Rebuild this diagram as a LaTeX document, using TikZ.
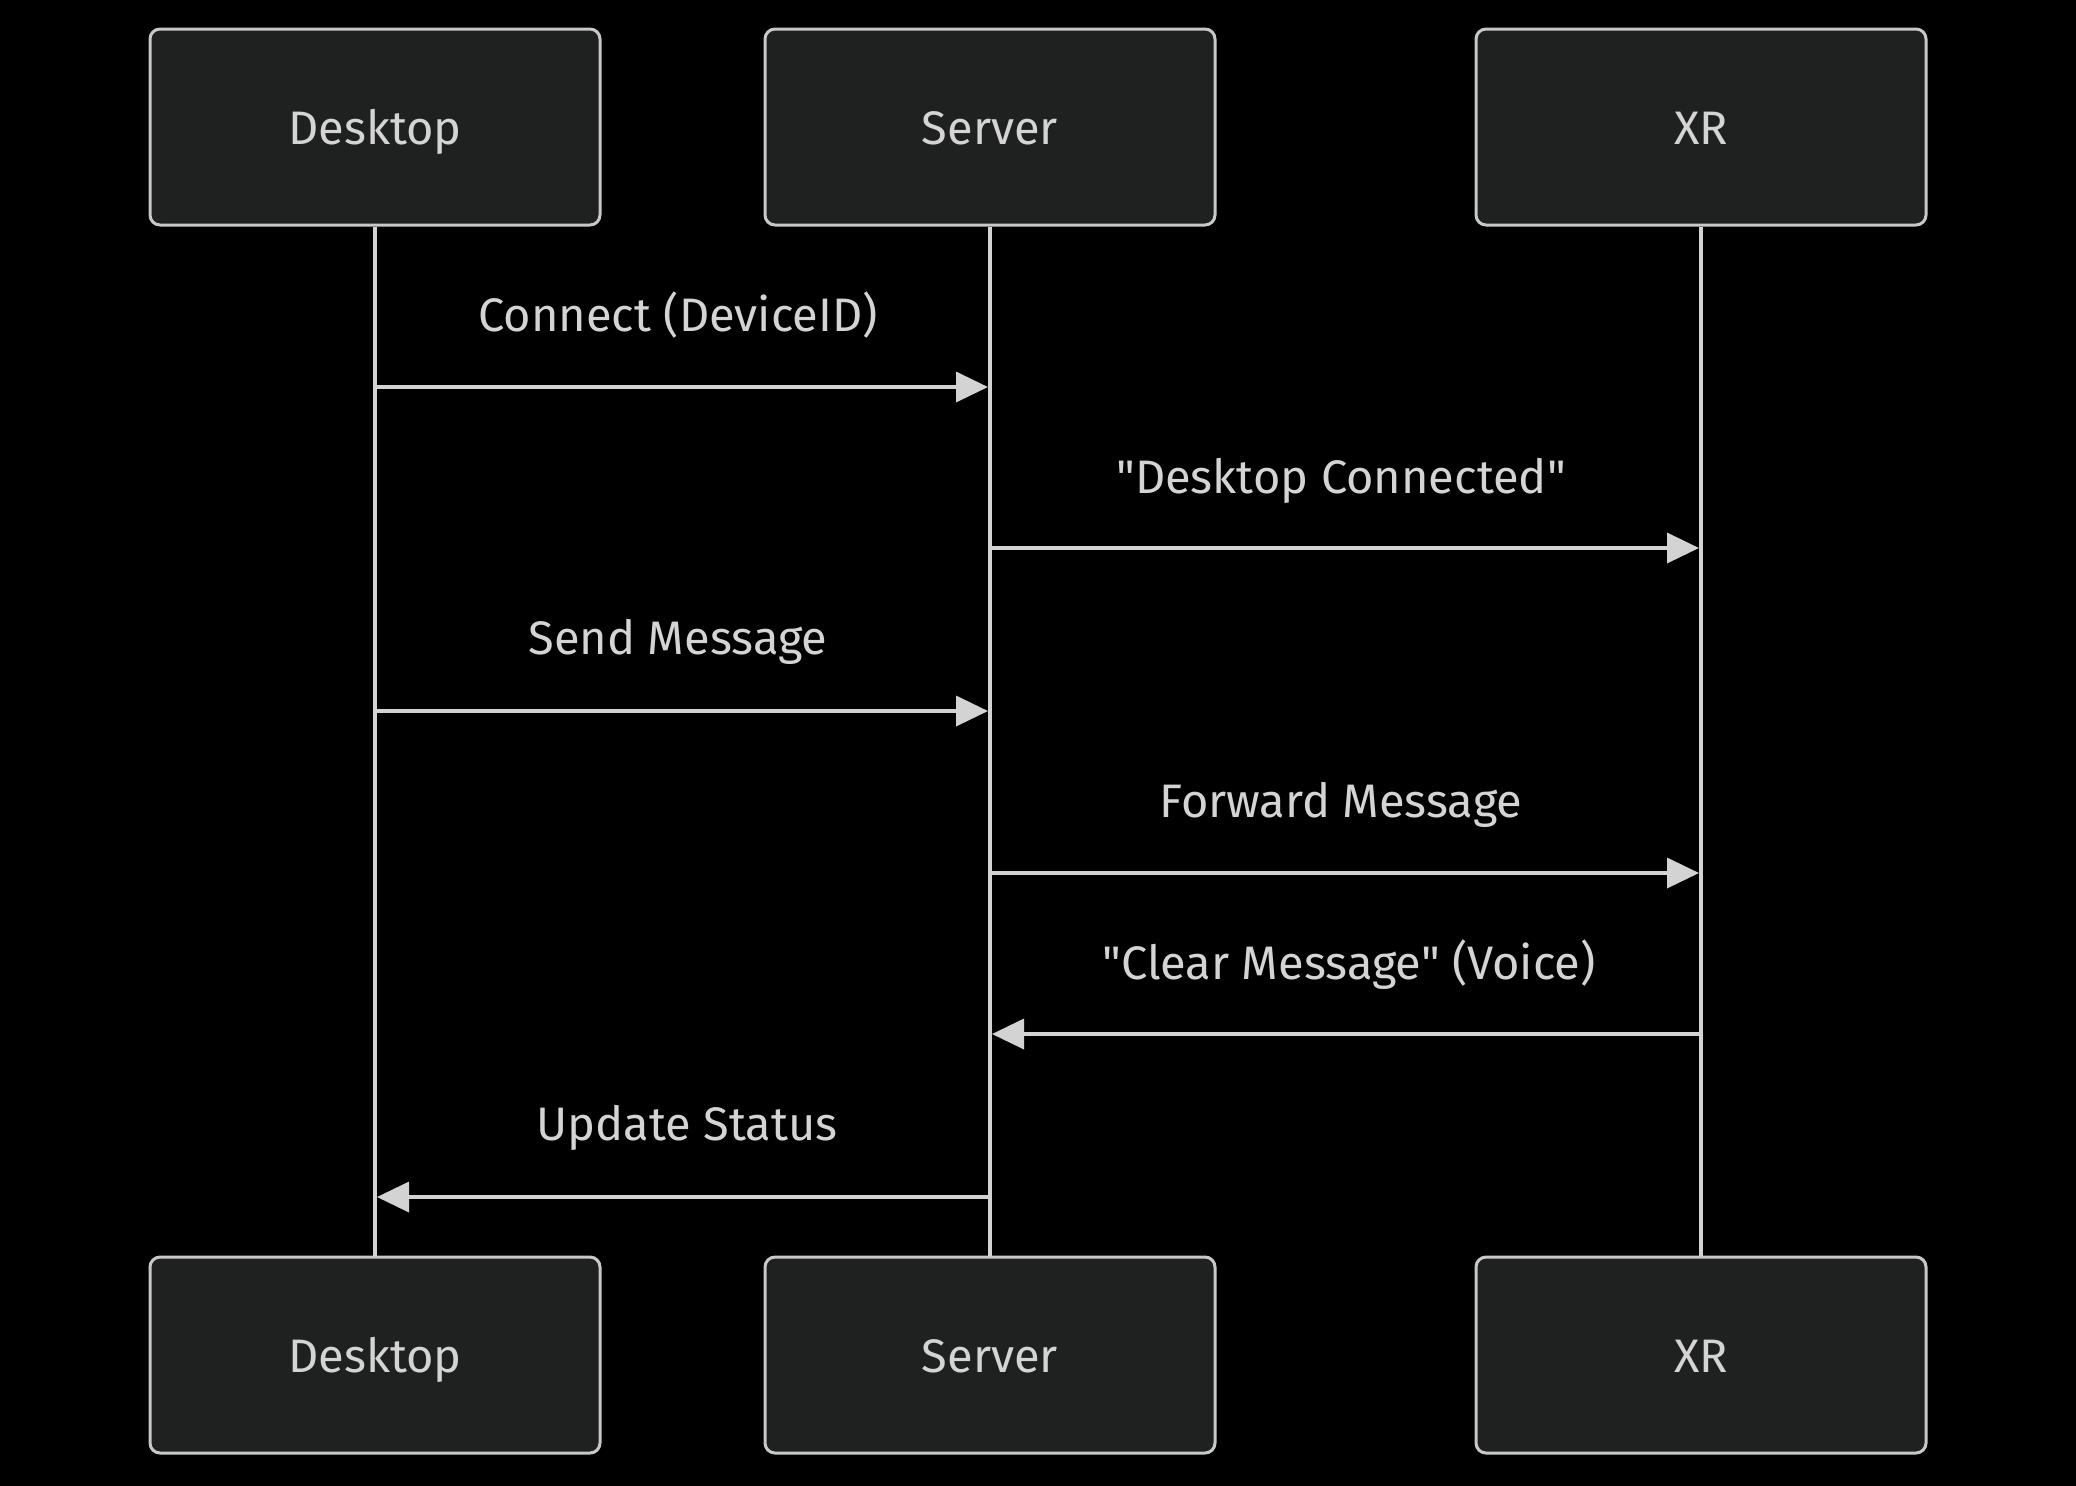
\documentclass[tikz,border=0pt]{standalone}
\usepackage{fontspec}
\setmainfont{Fira Sans}[Ligatures=TeXOff]
\usetikzlibrary{arrows.meta}
\definecolor{boxfill}{HTML}{1F2020}
\definecolor{boxline}{HTML}{C8C8C8}
\definecolor{ln}{HTML}{D3D3D3}
\definecolor{txt}{HTML}{D4D4D4}
\begin{document}
\begin{tikzpicture}[x=0.5pt,y=-0.5pt,
  actor/.style={draw=boxline,line width=1.5pt,fill=boxfill,rounded corners=5pt,
    minimum width=225pt,minimum height=98pt,inner sep=0pt,text=txt,
    text height=17pt,text depth=0pt,font=\fontsize{23.5}{27}\selectfont},
  life/.style={draw=ln,line width=2.4pt},
  msg/.style={draw=ln,line width=1.8pt,-{Triangle[length=16pt,width=15pt]}},
  lbl/.style={text=txt,font=\fontsize{23.5}{27}\selectfont,inner sep=0pt,
    text height=17pt,text depth=5pt}]
\useasboundingbox (0,0) rectangle (2076,1485);
\fill[black] (-20,-20) rectangle (2100,1510);
% top actors
\node[actor] (dt) at (375,127) {Desktop};
\node[actor] (st) at (990,127) {Server};
\node[actor] (xt) at (1701,127) {XR};
% bottom actors
\node[actor] (db) at (375,1355) {Desktop};
\node[actor] (sb) at (990,1355) {Server};
\node[actor] (xb) at (1701,1355) {XR};
% lifelines
\draw[life] (dt.south) -- (db.north);
\draw[life] (st.south) -- (sb.north);
\draw[life] (xt.south) -- (xb.north);
% message endpoints
\coordinate (d1) at (377,387); \coordinate (s1) at (988,387);
\coordinate (s2) at (992,548); \coordinate (x2) at (1699,548);
\coordinate (d3) at (377,711); \coordinate (s3) at (988,711);
\coordinate (s4) at (992,873); \coordinate (x4) at (1699,873);
\coordinate (x5) at (1699,1034); \coordinate (s5) at (992,1034);
\coordinate (s6) at (988,1197); \coordinate (d6) at (377,1197);
\draw[msg] (d1) -- (s1);
\draw[msg] (s2) -- (x2);
\draw[msg] (d3) -- (s3);
\draw[msg] (s4) -- (x4);
\draw[msg] (x5) -- (s5);
\draw[msg] (s6) -- (d6);
% labels
\node[lbl] (l1) at (678,319) {Connect (DeviceID)};
\node[lbl] (l2) at (1341,481) {"Desktop Connected"};
\node[lbl] (l3) at (678,642) {Send Message};
\node[lbl] (l4) at (1341,805) {Forward Message};
\node[lbl] (l5) at (1349,967) {"Clear Message" (Voice)};
\node[lbl] (l6) at (687,1128) {Update Status};
\end{tikzpicture}
\end{document}
